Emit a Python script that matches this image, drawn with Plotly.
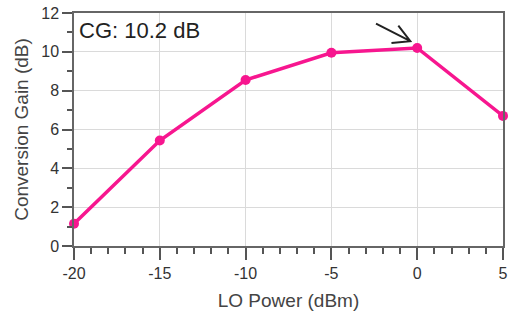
import plotly.graph_objects as go

lo_power = [-20, -15, -10, -5, 0, 5]
conv_gain = [1.15, 5.43, 8.55, 9.95, 10.2, 6.7]
x_ticks = [-20, -15, -10, -5, 0, 5]
y_ticks = [0, 2, 4, 6, 8, 10, 12]
label_text = "CG: 10.2 dB"

FONT = "Liberation Sans, Arial, sans-serif"
PINK = "#F7168F"

fig = go.Figure()
fig.add_trace(go.Scatter(
    x=lo_power, y=conv_gain, mode="lines+markers",
    line=dict(color=PINK, width=3.5),
    marker=dict(color=PINK, size=10),
    cliponaxis=False, showlegend=False,
))

fig.add_annotation(
    x=0, y=1, xref="paper", yref="paper", xanchor="left", yanchor="top",
    xshift=3, yshift=-3,
    text=label_text, showarrow=False,
    font=dict(family=FONT, size=22, color="#222"),
)

# arrow pointing at the peak (open chevron head)
fig.add_shape(
    type="path", xref="x", yref="y",
    path="M -2.4 11.45 L -0.4 10.55 M -1.5 10.45 L -0.4 10.55 L -1.1 11.35",
    line=dict(color="#222", width=2),
)

fig.update_layout(
    width=513, height=320,
    margin=dict(l=74, r=5, t=12, b=74),
    paper_bgcolor="white", plot_bgcolor="white",
    font=dict(family=FONT, color="#333"),
)
fig.update_xaxes(
    range=[-20, 5], tickvals=x_ticks, ticktext=[str(v) for v in x_ticks],
    ticks="outside", ticklen=12, tickwidth=1.5, tickcolor="#555",
    minor=dict(dtick=1, ticks="outside", ticklen=6, tickcolor="#555", showgrid=False),
    showline=True, linecolor="#666", linewidth=1.5, mirror=True,
    showgrid=True, gridcolor="#DADADA", gridwidth=1,
    zeroline=False,
    tickfont=dict(size=16, color="#333"),
    title=dict(text="LO Power (dBm)", font=dict(size=19, color="#444"), standoff=13),
)
fig.update_yaxes(
    range=[0, 12], tickvals=y_ticks, ticktext=[str(v) for v in y_ticks],
    ticks="outside", ticklen=10, tickwidth=1.5, tickcolor="#555",
    minor=dict(dtick=1, ticks="outside", ticklen=5, tickcolor="#555", showgrid=False),
    showline=True, linecolor="#666", linewidth=1.5, mirror=True,
    showgrid=True, gridcolor="#DADADA", gridwidth=1,
    zeroline=False,
    tickfont=dict(size=16, color="#333"),
    title=dict(text="Conversion Gain (dB)", font=dict(size=19, color="#444"), standoff=8),
)

fig.write_html("out.html", config={"displayModeBar": False},
               post_script="document.body.style.margin='0';")
